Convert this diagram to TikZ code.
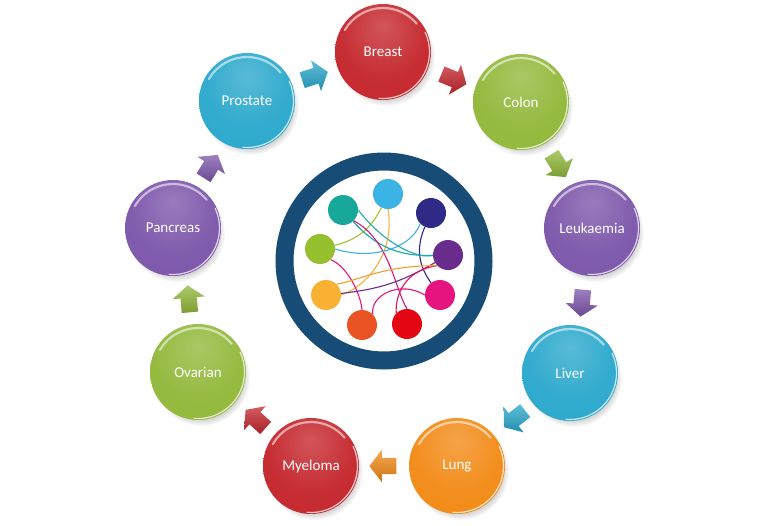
\documentclass[tikz,border=0pt]{standalone}
\usepackage{fontspec}
\setmainfont{Carlito}
\usetikzlibrary{shapes.arrows,shadows,calc}
\definecolor{cred}{RGB}{196,38,44}
\definecolor{cgreen}{RGB}{146,184,58}
\definecolor{cpurple}{RGB}{124,86,170}
\definecolor{ccyan}{RGB}{42,168,204}
\definecolor{corange}{RGB}{242,138,22}
\definecolor{ringblue}{RGB}{22,76,118}
\definecolor{s1}{RGB}{59,179,228}
\definecolor{s2}{RGB}{24,168,154}
\definecolor{s3}{RGB}{46,42,134}
\definecolor{s4}{RGB}{150,193,46}
\definecolor{s5}{RGB}{106,44,140}
\definecolor{s6}{RGB}{248,177,51}
\definecolor{s7}{RGB}{230,20,127}
\definecolor{s8}{RGB}{234,83,36}
\definecolor{s9}{RGB}{227,6,19}
\colorlet{ballbase}{cred}
\pgfdeclareradialshading[ballbase]{glossy}{\pgfpoint{0bp}{14bp}}{%
  color(0bp)=(ballbase!78!white);
  color(22bp)=(ballbase!96!white);
  color(42bp)=(ballbase);
  color(58bp)=(ballbase!78!black);
  color(64bp)=(ballbase!70!black)}
\tikzset{
  ball/.style={circle, minimum size=96, inner sep=0, text=white,
    font=\fontsize{15}{17}\selectfont,
    /utils/exec={\colorlet{ballbase}{#1}}, shading=glossy,
    circular drop shadow={shadow xshift=3pt, shadow yshift=-5pt, shadow scale=1.02, opacity=0.35}},
  shine/.style={white, opacity=0.55, line width=2.2, line cap=round},
  rim/.style={white, opacity=0.75, line width=1.2, line cap=round},
  blockarrow/.style={single arrow, minimum height=27,
    single arrow head extend=8, single arrow tip angle=105,
    inner xsep=0, inner ysep=8,
    shading=axis, top color=#1!75!white, bottom color=#1!85!black},
  dot/.style={circle, minimum size=30, inner sep=0, fill=#1},
  link/.style={line width=1.1, #1}
}
\begin{document}
\begin{tikzpicture}[x=1pt,y=1pt]
\useasboundingbox (0,0) rectangle (768,-525);
% central ring
\node[circle, draw=ringblue, line width=18, fill=white, minimum size=199, inner sep=0] (ring) at (384,-261) {};
% small circles
\node[dot=s1] (c1) at (388,-194) {};
\node[dot=s2] (c2) at (343,-210) {};
\node[dot=s3] (c3) at (431,-213) {};
\node[dot=s4] (c4) at (320,-249) {};
\node[dot=s5] (c5) at (448,-255) {};
\node[dot=s6] (c6) at (326,-295) {};
\node[dot=s7] (c7) at (440,-295) {};
\node[dot=s8] (c8) at (362,-325) {};
\node[dot=s9] (c9) at (407,-324) {};
% links
\draw[link=s4!80!s6] (c1) to[bend left=25] (c4);
\draw[link=s6] (c1.south) .. controls (395,-250) and (370,-285) .. (c6.east);
\draw[link=s2] (c2) to[bend right=25] (c5);
\draw[link=s7!80!s5] (c2.south east) .. controls (390,-240) and (395,-290) .. (c9.north);
\draw[link=s1] (c3.south west) .. controls (410,-250) and (370,-260) .. (c4.east);
\draw[link=s3] (c3) to[bend right=30] (c7);
\draw[link=s7] (c4.south east) .. controls (345,-265) and (360,-290) .. (c8.north);
\draw[link=s5] (c5) to[bend left=12] (c6);
\draw[link=s7!70!s9] (c5.south west) .. controls (405,-270) and (395,-295) .. (c9.north west);
\draw[link=s7] (c7.west) .. controls (400,-280) and (370,-295) .. (c8.north east);
\draw[link=s2!70!s1] (c2.east) .. controls (385,-245) and (420,-260) .. (c5.west);
\draw[link=s6!80!s8] (c6.north east) .. controls (360,-280) and (385,-265) .. (c5.south west);
% balls
\node[ball=cred] (breast) at (383,-52) {Breast};
\node[ball=cgreen] (colon) at (521,-102) {Colon};
\node[ball=cpurple] (leuk) at (592,-228) {Leukaemia};
\node[ball=ccyan] (liver) at (570,-373) {Liver};
\node[ball=corange] (lung) at (457,-466) {Lung};
\node[ball=cred] (myeloma) at (311,-466) {Myeloma};
\node[ball=cgreen] (ovarian) at (198,-372) {Ovarian};
\node[ball=cpurple] (pancreas) at (173,-228) {Pancreas};
\node[ball=ccyan] (prostate) at (247,-101) {Prostate};
% gloss
\foreach \b in {breast,colon,leuk,liver,lung,myeloma,ovarian,pancreas,prostate}{
  \draw[shine] ($(\b.center)+(150:44)$) arc[start angle=150, end angle=40, radius=44];
  \draw[rim] ($(\b.center)+(-95:46.5)$) arc[start angle=-95, end angle=25, radius=46.5];
}
% arrows
\node[blockarrow=ccyan, rotate=18] (a1) at (312,-77) {};
\node[blockarrow=cred, rotate=-22] (a2) at (451,-78) {};
\node[blockarrow=cgreen, rotate=-58] (a3) at (557,-163) {};
\node[blockarrow=cpurple, rotate=-95] (a4) at (582,-300) {};
\node[blockarrow=ccyan, rotate=-142] (a5) at (517,-417) {};
\node[blockarrow=corange, rotate=180] (a6) at (386,-466) {};
\node[blockarrow=cred, rotate=138] (a7) at (258,-421) {};
\node[blockarrow=cgreen, rotate=95] (a8) at (189,-302) {};
\node[blockarrow=cpurple, rotate=58] (a9) at (209,-169) {};
\end{tikzpicture}
\end{document}
